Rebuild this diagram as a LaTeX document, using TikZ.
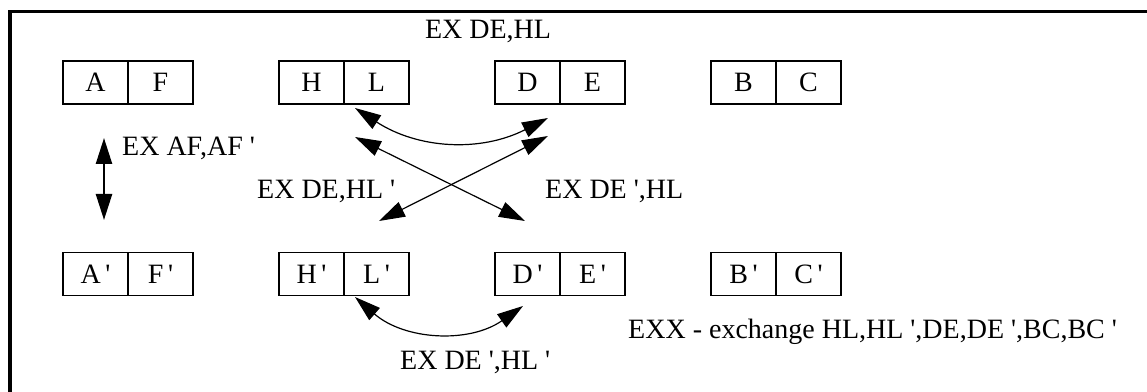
\documentclass[tikz,border=0pt]{standalone}
\usepackage{fontspec}
\setmainfont{Liberation Serif}
\usetikzlibrary{positioning,arrows.meta}
\newcommand{\pr}{\textquotesingle}

\begin{document}
\begin{tikzpicture}[x=1pt, y=1pt, font={\fontsize{28}{34}\selectfont},
  >={Triangle[length=26pt,width=16pt]},
  cell/.style={draw, line width=1.8pt, minimum width=65pt,
    minimum height=43pt, inner sep=0pt, outer sep=0pt},
  xarrow/.style={<->, line width=1.2pt},
  lbl/.style={anchor=base west, inner sep=0pt}]
  \useasboundingbox (0,0) rectangle (1147,391);
  \clip (0,0) rectangle (1147,391);
  \draw[line width=3.3pt] (10,379.5) rectangle (1180,-30);
  % main register pairs
  \node[cell] (a) at (95.5,308.5) {A};
  \node[cell, right=0pt of a]  (f) {F};
  \node[cell, right=86pt of f] (h) {H};
  \node[cell, right=0pt of h]  (l) {L};
  \node[cell, right=86pt of l] (d) {D};
  \node[cell, right=0pt of d]  (e) {E};
  \node[cell, right=86pt of e] (b) {B};
  \node[cell, right=0pt of b]  (c) {C};
  % alternate register pairs
  \node[cell, below=148.5pt of a] (ap) {A\,\pr};
  \node[cell, right=0pt of ap]  (fp) {F\,\pr};
  \node[cell, right=86pt of fp] (hp) {H\,\pr};
  \node[cell, right=0pt of hp]  (lp) {L\,\pr};
  \node[cell, right=86pt of lp] (dp) {D\,\pr};
  \node[cell, right=0pt of dp]  (ep) {E\,\pr};
  \node[cell, right=86pt of ep] (bp) {B\,\pr};
  \node[cell, right=0pt of bp]  (cp) {C\,\pr};
  % arrow ends
  \coordinate (afu) at (104,253);
  \coordinate (afd) at (104,171);
  \coordinate (hl1) at (355,283);
  \coordinate (de1) at (548,273);
  \coordinate (hl2) at (355,254);
  \coordinate (de2) at (548,255);
  \coordinate (hlx) at (379,170);
  \coordinate (dex) at (525,170);
  \coordinate (hlb) at (355,94);
  \coordinate (deb) at (523,85);
  \draw[<->, line width=2.4pt] (afu) -- (afd);
  \draw[xarrow] (hl1) to[bend right=30] (de1);
  \draw[xarrow] (hl2) -- (dex);
  \draw[xarrow] (de2) -- (hlx);
  \draw[xarrow] (hlb) to[bend right=38] (deb);
  % labels
  \node[anchor=base, inner sep=0pt] (exdehl) at (488,352) {EX DE,HL};
  \node[lbl] (exaf)  at (122,235) {EX AF,AF \pr};
  \node[lbl] (exdehlp) at (257,192) {EX DE,HL \pr};
  \node[lbl] (exdephl) at (545,192) {EX DE \pr,HL};
  \node[lbl] (exdephlp) at (400,22) {EX DE \pr,HL \pr};
  \node[lbl] (exx) at (628,53) {EXX - exchange HL,HL \pr,DE,DE \pr,BC,BC \pr};
\end{tikzpicture}
\end{document}
